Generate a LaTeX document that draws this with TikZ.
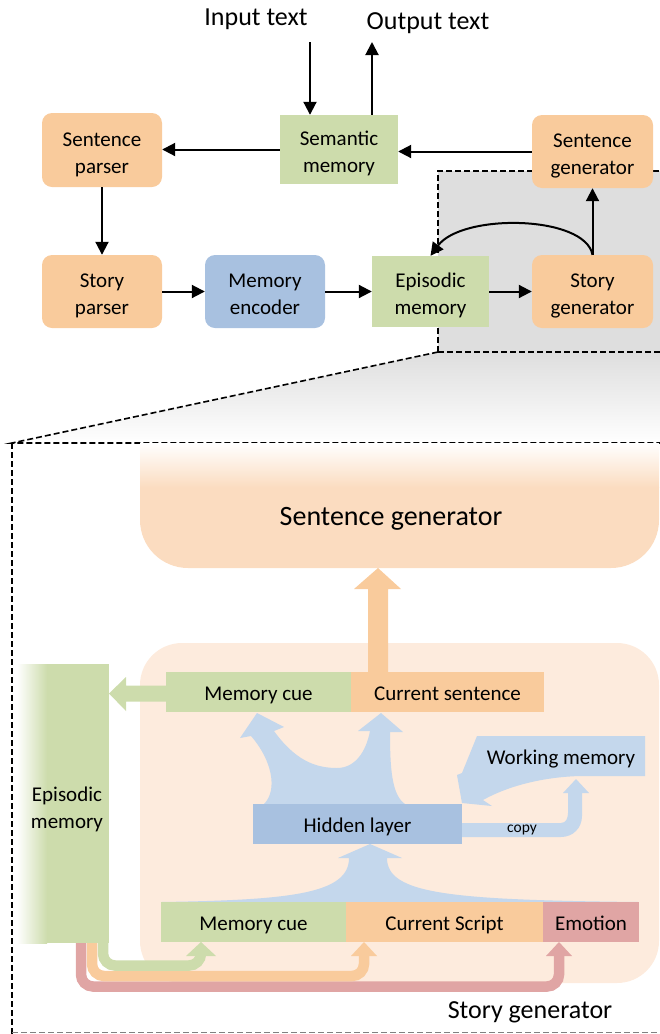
\documentclass[tikz,border=0pt]{standalone}
\usepackage{fontspec}
\setmainfont{Carlito}
\usetikzlibrary{arrows.meta,calc}
\definecolor{orangeC}{HTML}{F9CB9C}
\definecolor{greenC}{HTML}{CDDCAC}
\definecolor{blueC}{HTML}{A8C1E0}
\definecolor{lblueC}{HTML}{C4D7EC}
\definecolor{greyC}{HTML}{DEDEDE}
\definecolor{redC}{HTML}{E0A5A4}
\definecolor{bgpeach}{HTML}{FDEBDD}
\definecolor{sgpeach}{HTML}{FBDCC0}
% lowered text block that keeps its natural size for centring
\newcommand{\dn}[2][3pt]{\raisebox{-#1}[\height][\depth]{\begin{tabular}{@{}c@{}}#2\end{tabular}}}
\begin{document}
\begin{tikzpicture}[x=1pt,y=-1pt,
  txt/.style={font=\fontsize{21}{27}\selectfont, inner sep=0pt},
  rbox/.style={txt, rounded corners=10pt, minimum width=120pt, minimum height=74pt},
  obox/.style={rbox, fill=orangeC},
  bbox/.style={rbox, fill=blueC},
  gbox/.style={txt, fill=greenC, minimum width=118pt, minimum height=70pt},
  bar/.style={txt, minimum height=40pt},
  arr/.style={line width=2pt, -{Triangle[length=13pt,width=13pt]}},
  dashline/.style={line width=1.6pt, dash pattern=on 6pt off 3pt},
  band/.style={line width=10.5pt, rounded corners=12pt},
  bigtxt/.style={font=\fontsize{26}{30}\selectfont, inner sep=0pt},
]
\useasboundingbox (0,0) rectangle (660,1034);

% ---------- zoom region ----------
\fill[greyC] (438,171) rectangle (660,352);
\shade[top color=greyC, bottom color=white] (438,352) -- (660,352) -- (660,443) -- (12,443) -- cycle;
\draw[dashline] (438,352) -- (438,171) -- (660,171);
\draw[dashline] (438,352) -- (660,352);
\draw[dashline] (438,352) -- (12,443) -- (660,443);
\draw[dashline] (12,443) -- (12,1034);
\draw[line width=1pt, gray, dash pattern=on 6pt off 3pt] (12,1032) -- (660,1032);

% ---------- top diagram ----------
\node[bigtxt] (intxt) at (256,19) {Input text};
\node[bigtxt] (outtxt) at (428,23) {Output text};

\node[obox] (sp) at (102,150) {\dn[4.5pt]{Sentence\\parser}};
\node[gbox, minimum height=69pt] (sem) at (339,149.5) {\dn[4.5pt]{Semantic\\memory}};
\node[obox, minimum width=121pt, minimum height=73pt] (sg) at (592.5,151.5) {\dn[4.5pt]{Sentence\\generator}};
\node[obox, minimum height=73pt] (stp) at (102,291.5) {\dn[4.5pt]{Story\\parser}};
\node[bbox, minimum height=73pt] (me) at (265,291.5) {\dn[4.5pt]{Memory\\encoder}};
\node[gbox, minimum width=117pt, minimum height=71pt] (epi) at (430.5,291.5) {\dn[4.5pt]{Episodic\\memory}};
\node[obox, minimum width=121pt, minimum height=73pt] (stg) at (592.5,291.5) {\dn[4.5pt]{Story\\generator}};

\coordinate (inp) at (310,42);
\coordinate (outp) at (372,42);
\draw[arr] (inp) -- (inp |- sem.north);
\draw[arr] (outp |- sem.north) -- (outp);
\draw[arr] (sem.west) -- (sem.west -| sp.east);
\draw[arr] (sg.west) -- (sg.west -| sem.east);
\draw[arr] (sp.south) -- (stp.north);
\draw[arr] (stp.east) -- (me.west);
\draw[arr] (me.east) -- (epi.west);
\draw[arr] (epi.east) -- (stg.west);
\draw[arr] (stg.north) -- (sg.south);
\draw[arr] (stg.north) .. controls (585,215) and (462,213) .. (epi.north);

% ---------- expanded story generator ----------
% big sentence generator
\begin{scope}
  \clip (140,487) rectangle (660,570);
  \fill[sgpeach, rounded corners=48pt] (140,420) rectangle (659,568);
\end{scope}
\shade[top color=white, bottom color=sgpeach] (140,443) rectangle (659,487.5);
\node[font=\fontsize{28}{32}\selectfont, inner sep=0pt] (sgb) at (391,519) {Sentence generator};
\coordinate (sgbot) at (378,568);

% story generator background
\fill[bgpeach, rounded corners=42pt] (140,643) rectangle (659,983);
\node[bigtxt] (stglabel) at (530,1012) {Story generator};

% episodic memory column
\shade[left color=white, right color=greenC] (17,664) rectangle (47,943);
\fill[greenC] (46.5,664) rectangle (109,943);
\node[txt, minimum width=92pt, minimum height=279pt] (epi2) at (63,803.5) {\hspace*{8pt}\dn[6.5pt]{Episodic\\memory}};

% thick orange arrow to sentence generator
\fill[orangeC] (368,672) -- (368,589) -- (354,589) -- (sgbot) -- (401,589) -- (388,589) -- (388,672) -- cycle;

% blue flows
\fill[lblueC] (264,804) .. controls (278,790) and (272,760) .. (251,736) -- (240,738) -- (257,713) -- (284,727) -- (274,731)
  .. controls (295,760) and (315,768) .. (337,768) .. controls (355,768) and (366,752) .. (370,731)
  -- (358,731) -- (381,713) -- (403,732) -- (390,732) .. controls (390,770) and (392,795) .. (405,804) -- cycle;
\fill[lblueC] (161,902) .. controls (290,900) and (349,894) .. (349,858) -- (338,858) -- (370,844) -- (402,858) -- (387,858)
  .. controls (387,894) and (450,900) .. (639,902) -- cycle;
\fill[lblueC] (477,736) -- (462,773) -- (457,775) -- (462,803) -- (492,806) -- (483,800)
  .. controls (510,785) and (545,777) .. (580,776) -- (645,776) -- (645,736) -- cycle;
\fill[lblueC] (462,823) -- (561,823) .. controls (566,823) and (568,818) .. (568,813) -- (568,793) -- (563,793) -- (576,779)
  -- (589,793) -- (582,793) -- (582,816) .. controls (582,828) and (573,837) .. (561,837) -- (462,837) -- cycle;
\node[font=\fontsize{15.5}{18}\selectfont, inner sep=0pt] (copy) at (522,830) {copy};

% rows
\node[bar, fill=greenC, minimum width=185pt] (mc1) at (258.5,692) {\dn{Memory cue}};
\node[bar, fill=orangeC, minimum width=193pt] (cs) at (447.5,692) {\dn{Current sentence}};
\node[bar, fill=blueC, minimum width=209pt] (hid) at (357.5,824) {\dn{Hidden layer}};
\node[bar, fill=lblueC, minimum width=168pt] (wm) at (561,756) {\dn{Working memory}};
\node[bar, fill=greenC, minimum width=185pt] (mc2) at (253.5,922) {\dn{Memory cue}};
\node[bar, fill=orangeC, minimum width=197pt] (cscr) at (444.5,922) {\dn{Current Script}};
\node[bar, fill=redC, minimum width=96pt] (emo) at (591,922) {\dn{Emotion}};

% green arrow memory cue -> episodic memory
\fill[greenC] (mc1.west |- 0,685.5) -- (126,685.5) -- (126,677) -- (109,693.5) -- (126,711) -- (126,701.5) -- (mc1.west |- 0,701.5) -- cycle;

% bands from episodic memory to bottom row
\draw[band, redC] (81,943) -- (81,986.5) -- (559,986.5) -- (559,955.5);
\fill[redC] (546,956) -- (572,956) -- (559,942) -- cycle;
\draw[band, orangeC] (92,943) -- (92,976) -- (364,976) -- (364,955.5);
\fill[orangeC] (351,956) -- (377,956) -- (364,942) -- cycle;
\draw[band, greenC] (103,943) -- (103,965.5) -- (201,965.5) -- (201,955.5);
\fill[greenC] (186,956) -- (216,956) -- (201,942) -- cycle;
\end{tikzpicture}
\end{document}
